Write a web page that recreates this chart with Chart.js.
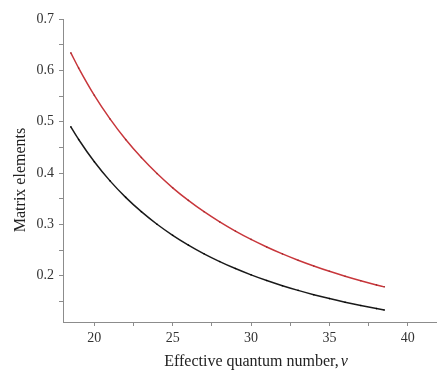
<!DOCTYPE html>
<html>
<head>
<meta charset="utf-8">
<script src="https://cdn.jsdelivr.net/npm/chart.js@4/dist/chart.umd.min.js"></script>
<style>
html,body{margin:0;padding:0;background:#fff;}
#wrap{width:440px;height:371px;position:relative;}
</style>
</head>
<body>
<div id="wrap"><canvas id="c" width="440" height="371"></canvas></div>
<script>
const nu = [18.5,19,20,21,22,23,24,25,26,27,28,29,30,31,32,33,34,35,36,37,38,38.5];
const redSeries = [0.634,0.6044,0.5513,0.5054,0.4652,0.4301,0.3990,0.3713,0.3468,0.3247,0.3049,0.2870,0.2708,0.2561,0.2426,0.2303,0.2191,0.2087,0.1992,0.1904,0.1822,0.1784];
const blackSeries = [0.490,0.4654,0.4220,0.3848,0.3527,0.3248,0.3003,0.2788,0.2598,0.2428,0.2277,0.2141,0.2018,0.1908,0.1807,0.1716,0.1632,0.1556,0.1486,0.1421,0.1361,0.1333];
const xTicks = [20,22.5,25,27.5,30,32.5,35,37.5,40];
const xLabels = ['20','','25','','30','','35','','40'];
const yTicks = [0.15,0.2,0.25,0.3,0.35,0.4,0.45,0.5,0.55,0.6,0.65,0.7];
const yLabels = ['','0.2','','0.3','','0.4','','0.5','','0.6','','0.7'];
const xTitle = 'Effective quantum number,';
const xTitleSym = 'ν';
const yTitle = 'Matrix elements';

const toPts = (xs, ys) => xs.map((x,i)=>({x:x,y:ys[i]}));
const FONT = "'Liberation Serif', 'DejaVu Serif', serif";
const AX = '#8c8c8c';

const titles = {
  id:'titles',
  afterDraw(chart){
    const ctx = chart.ctx, ca = chart.chartArea;
    ctx.save();
    ctx.fillStyle = '#222';
    ctx.textBaseline = 'middle';
    ctx.font = "16px " + FONT;
    const w1 = ctx.measureText(xTitle).width;
    ctx.font = "italic 16px " + FONT;
    const w2 = ctx.measureText(xTitleSym).width;
    const cx = 256;
    let x0 = cx - (w1 + w2 + 2)/2;
    ctx.textAlign = 'left';
    ctx.font = "16px " + FONT;
    ctx.fillText(xTitle, x0, 362);
    ctx.font = "italic 16px " + FONT;
    ctx.fillText(xTitleSym, x0 + w1 + 2, 362);
    ctx.translate(21, 180);
    ctx.rotate(-Math.PI/2);
    ctx.textAlign = 'center';
    ctx.font = "16px " + FONT;
    ctx.fillText(yTitle, 0, 0);
    ctx.restore();
  }
};

new Chart(document.getElementById('c'), {
  type: 'line',
  data: {
    datasets: [
      {data: toPts(nu, redSeries), borderColor:'#c8363b', borderWidth:1.5, pointRadius:0.8, pointBackgroundColor:'#a02a2e', pointBorderWidth:0, cubicInterpolationMode:'monotone', fill:false},
      {data: toPts(nu, blackSeries), borderColor:'#1a1a1a', borderWidth:1.5, pointRadius:0.8, pointBackgroundColor:'#000', pointBorderWidth:0, cubicInterpolationMode:'monotone', fill:false}
    ]
  },
  options: {
    responsive:false, animation:false, devicePixelRatio:1,
    layout:{padding:{top:19,right:0,left:0,bottom:0}},
    plugins:{legend:{display:false}, tooltip:{enabled:false}},
    scales:{
      x:{type:'linear', min:18, max:41.8,
        afterBuildTicks: s => { s.ticks = xTicks.map(v=>({value:v})); },
        afterFit: s => { s.height = 49; },
        ticks:{callback:(v,i)=>xLabels[i], font:{family:FONT,size:14}, color:'#333', padding:4, maxRotation:0, autoSkip:false},
        grid:{drawOnChartArea:false, tickLength:4, tickColor:AX},
        border:{color:AX, width:1}
      },
      y:{type:'linear', min:0.11, max:0.7,
        afterBuildTicks: s => { s.ticks = yTicks.map(v=>({value:v})); },
        afterFit: s => { s.width = 63; },
        ticks:{callback:(v,i)=>yLabels[i], font:{family:FONT,size:14}, color:'#333', padding:5, autoSkip:false},
        grid:{drawOnChartArea:false, tickLength:4, tickColor:AX},
        border:{color:AX, width:1}
      }
    }
  },
  plugins:[titles]
});
</script>
</body>
</html>
